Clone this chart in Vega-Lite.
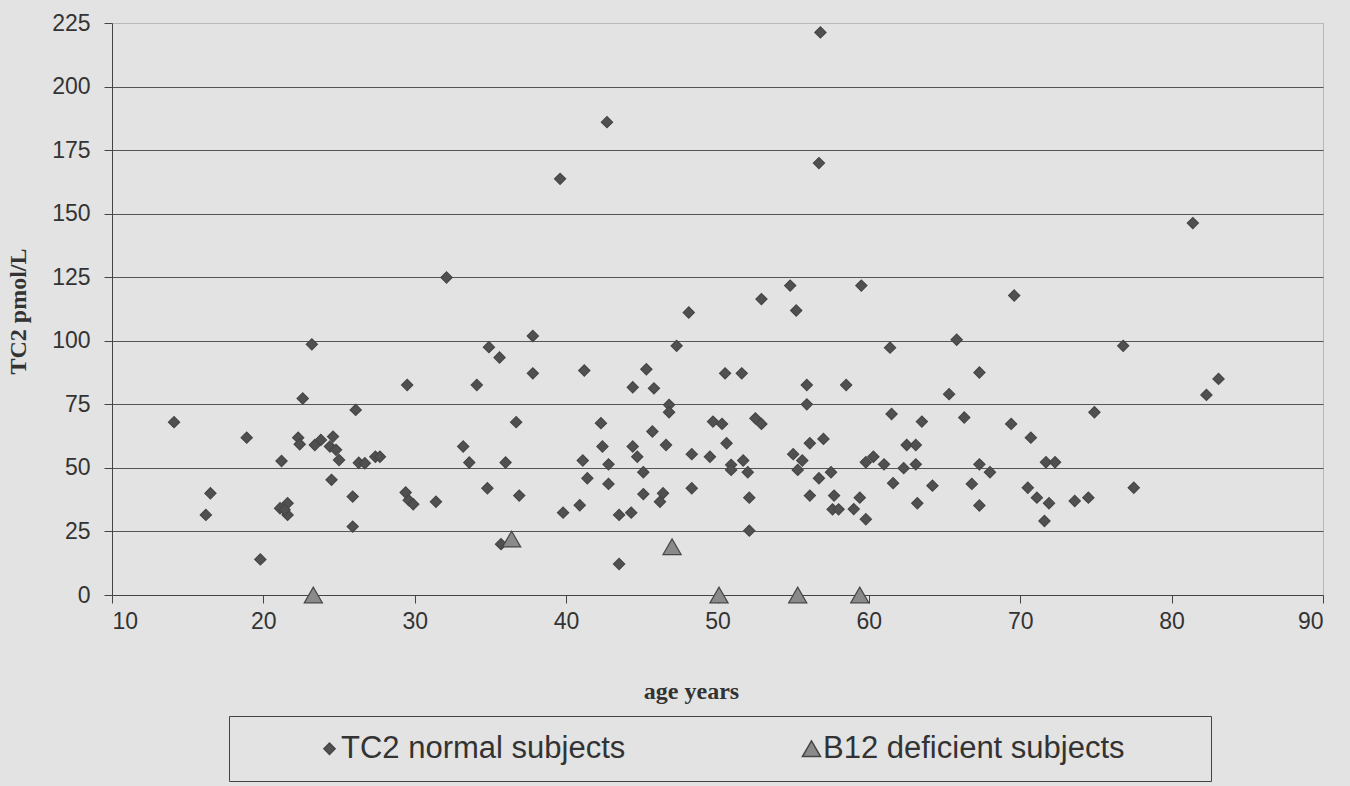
{
  "$schema": "https://vega.github.io/schema/vega-lite/v6.json",
  "width": 1211,
  "height": 572,
  "autosize": {"type": "none"},
  "padding": {"left": 112, "top": 23, "right": 27, "bottom": 191},
  "background": "#e3e3e3",
  "config": {
    "view": {"stroke": "#b8b8b8", "strokeWidth": 1},
    "axis": {"labelFont": "Liberation Sans", "titleFont": "Liberation Serif"}
  },
  "data": {
    "values": [
      {"age": 14.1, "tc2": 68.0, "series": "TC2 normal subjects"},
      {"age": 16.2, "tc2": 31.5, "series": "TC2 normal subjects"},
      {"age": 16.5, "tc2": 40.0, "series": "TC2 normal subjects"},
      {"age": 18.9, "tc2": 61.9, "series": "TC2 normal subjects"},
      {"age": 19.8, "tc2": 14.0, "series": "TC2 normal subjects"},
      {"age": 21.2, "tc2": 52.7, "series": "TC2 normal subjects"},
      {"age": 21.1, "tc2": 34.1, "series": "TC2 normal subjects"},
      {"age": 21.6, "tc2": 36.1, "series": "TC2 normal subjects"},
      {"age": 21.6, "tc2": 31.5, "series": "TC2 normal subjects"},
      {"age": 21.4, "tc2": 33.5, "series": "TC2 normal subjects"},
      {"age": 22.6, "tc2": 77.3, "series": "TC2 normal subjects"},
      {"age": 23.2, "tc2": 98.6, "series": "TC2 normal subjects"},
      {"age": 22.3, "tc2": 61.9, "series": "TC2 normal subjects"},
      {"age": 22.4, "tc2": 59.3, "series": "TC2 normal subjects"},
      {"age": 23.4, "tc2": 59.0, "series": "TC2 normal subjects"},
      {"age": 23.8, "tc2": 61.0, "series": "TC2 normal subjects"},
      {"age": 24.6, "tc2": 62.3, "series": "TC2 normal subjects"},
      {"age": 24.4, "tc2": 58.4, "series": "TC2 normal subjects"},
      {"age": 24.8, "tc2": 57.1, "series": "TC2 normal subjects"},
      {"age": 25.0, "tc2": 53.1, "series": "TC2 normal subjects"},
      {"age": 24.5, "tc2": 45.3, "series": "TC2 normal subjects"},
      {"age": 26.1, "tc2": 72.8, "series": "TC2 normal subjects"},
      {"age": 25.9, "tc2": 38.7, "series": "TC2 normal subjects"},
      {"age": 25.9, "tc2": 26.9, "series": "TC2 normal subjects"},
      {"age": 26.3, "tc2": 52.0, "series": "TC2 normal subjects"},
      {"age": 26.7, "tc2": 51.8, "series": "TC2 normal subjects"},
      {"age": 27.4, "tc2": 54.4, "series": "TC2 normal subjects"},
      {"age": 27.7, "tc2": 54.4, "series": "TC2 normal subjects"},
      {"age": 29.5, "tc2": 82.6, "series": "TC2 normal subjects"},
      {"age": 29.4, "tc2": 40.3, "series": "TC2 normal subjects"},
      {"age": 29.6, "tc2": 37.3, "series": "TC2 normal subjects"},
      {"age": 29.9, "tc2": 35.7, "series": "TC2 normal subjects"},
      {"age": 31.4, "tc2": 36.7, "series": "TC2 normal subjects"},
      {"age": 32.1, "tc2": 124.9, "series": "TC2 normal subjects"},
      {"age": 42.7, "tc2": 186.0, "series": "TC2 normal subjects"},
      {"age": 39.6, "tc2": 163.7, "series": "TC2 normal subjects"},
      {"age": 56.8, "tc2": 221.3, "series": "TC2 normal subjects"},
      {"age": 56.7, "tc2": 169.9, "series": "TC2 normal subjects"},
      {"age": 48.1, "tc2": 111.1, "series": "TC2 normal subjects"},
      {"age": 52.9, "tc2": 116.4, "series": "TC2 normal subjects"},
      {"age": 54.8, "tc2": 121.7, "series": "TC2 normal subjects"},
      {"age": 55.2, "tc2": 111.9, "series": "TC2 normal subjects"},
      {"age": 34.1, "tc2": 82.6, "series": "TC2 normal subjects"},
      {"age": 34.9, "tc2": 97.5, "series": "TC2 normal subjects"},
      {"age": 35.6, "tc2": 93.4, "series": "TC2 normal subjects"},
      {"age": 37.8, "tc2": 101.9, "series": "TC2 normal subjects"},
      {"age": 37.8, "tc2": 87.2, "series": "TC2 normal subjects"},
      {"age": 41.2, "tc2": 88.3, "series": "TC2 normal subjects"},
      {"age": 45.3, "tc2": 88.8, "series": "TC2 normal subjects"},
      {"age": 44.4, "tc2": 81.7, "series": "TC2 normal subjects"},
      {"age": 45.8, "tc2": 81.3, "series": "TC2 normal subjects"},
      {"age": 47.3, "tc2": 98.0, "series": "TC2 normal subjects"},
      {"age": 50.5, "tc2": 87.2, "series": "TC2 normal subjects"},
      {"age": 51.6, "tc2": 87.2, "series": "TC2 normal subjects"},
      {"age": 55.9, "tc2": 82.6, "series": "TC2 normal subjects"},
      {"age": 55.9, "tc2": 75.0, "series": "TC2 normal subjects"},
      {"age": 58.5, "tc2": 82.6, "series": "TC2 normal subjects"},
      {"age": 36.7, "tc2": 68.0, "series": "TC2 normal subjects"},
      {"age": 33.2, "tc2": 58.4, "series": "TC2 normal subjects"},
      {"age": 33.6, "tc2": 52.1, "series": "TC2 normal subjects"},
      {"age": 36.0, "tc2": 52.1, "series": "TC2 normal subjects"},
      {"age": 34.8, "tc2": 42.0, "series": "TC2 normal subjects"},
      {"age": 36.9, "tc2": 39.1, "series": "TC2 normal subjects"},
      {"age": 35.7, "tc2": 20.0, "series": "TC2 normal subjects"},
      {"age": 42.3, "tc2": 67.6, "series": "TC2 normal subjects"},
      {"age": 42.4, "tc2": 58.4, "series": "TC2 normal subjects"},
      {"age": 41.1, "tc2": 52.9, "series": "TC2 normal subjects"},
      {"age": 41.4, "tc2": 45.9, "series": "TC2 normal subjects"},
      {"age": 42.8, "tc2": 51.4, "series": "TC2 normal subjects"},
      {"age": 42.8, "tc2": 43.7, "series": "TC2 normal subjects"},
      {"age": 39.8, "tc2": 32.4, "series": "TC2 normal subjects"},
      {"age": 40.9, "tc2": 35.3, "series": "TC2 normal subjects"},
      {"age": 43.5, "tc2": 31.5, "series": "TC2 normal subjects"},
      {"age": 44.3, "tc2": 32.4, "series": "TC2 normal subjects"},
      {"age": 43.5, "tc2": 12.2, "series": "TC2 normal subjects"},
      {"age": 45.7, "tc2": 64.3, "series": "TC2 normal subjects"},
      {"age": 44.4, "tc2": 58.4, "series": "TC2 normal subjects"},
      {"age": 44.7, "tc2": 54.4, "series": "TC2 normal subjects"},
      {"age": 45.1, "tc2": 48.3, "series": "TC2 normal subjects"},
      {"age": 45.1, "tc2": 39.7, "series": "TC2 normal subjects"},
      {"age": 46.6, "tc2": 59.0, "series": "TC2 normal subjects"},
      {"age": 46.4, "tc2": 40.0, "series": "TC2 normal subjects"},
      {"age": 46.2, "tc2": 36.7, "series": "TC2 normal subjects"},
      {"age": 46.8, "tc2": 74.8, "series": "TC2 normal subjects"},
      {"age": 46.8, "tc2": 71.9, "series": "TC2 normal subjects"},
      {"age": 48.3, "tc2": 55.4, "series": "TC2 normal subjects"},
      {"age": 48.3, "tc2": 42.0, "series": "TC2 normal subjects"},
      {"age": 49.5, "tc2": 54.4, "series": "TC2 normal subjects"},
      {"age": 49.7, "tc2": 68.2, "series": "TC2 normal subjects"},
      {"age": 50.3, "tc2": 67.3, "series": "TC2 normal subjects"},
      {"age": 50.6, "tc2": 59.7, "series": "TC2 normal subjects"},
      {"age": 50.9, "tc2": 51.2, "series": "TC2 normal subjects"},
      {"age": 50.9, "tc2": 49.2, "series": "TC2 normal subjects"},
      {"age": 51.7, "tc2": 52.9, "series": "TC2 normal subjects"},
      {"age": 52.0, "tc2": 48.3, "series": "TC2 normal subjects"},
      {"age": 52.1, "tc2": 38.3, "series": "TC2 normal subjects"},
      {"age": 52.1, "tc2": 25.3, "series": "TC2 normal subjects"},
      {"age": 52.5, "tc2": 69.5, "series": "TC2 normal subjects"},
      {"age": 52.9, "tc2": 67.3, "series": "TC2 normal subjects"},
      {"age": 55.0, "tc2": 55.4, "series": "TC2 normal subjects"},
      {"age": 55.6, "tc2": 52.9, "series": "TC2 normal subjects"},
      {"age": 55.3, "tc2": 49.2, "series": "TC2 normal subjects"},
      {"age": 56.1, "tc2": 59.7, "series": "TC2 normal subjects"},
      {"age": 57.0, "tc2": 61.4, "series": "TC2 normal subjects"},
      {"age": 56.1, "tc2": 39.1, "series": "TC2 normal subjects"},
      {"age": 56.7, "tc2": 45.9, "series": "TC2 normal subjects"},
      {"age": 57.5, "tc2": 48.3, "series": "TC2 normal subjects"},
      {"age": 57.7, "tc2": 39.1, "series": "TC2 normal subjects"},
      {"age": 57.6, "tc2": 33.7, "series": "TC2 normal subjects"},
      {"age": 58.0, "tc2": 33.7, "series": "TC2 normal subjects"},
      {"age": 61.4, "tc2": 97.3, "series": "TC2 normal subjects"},
      {"age": 65.8, "tc2": 100.4, "series": "TC2 normal subjects"},
      {"age": 76.8, "tc2": 98.0, "series": "TC2 normal subjects"},
      {"age": 67.3, "tc2": 87.5, "series": "TC2 normal subjects"},
      {"age": 65.3, "tc2": 79.0, "series": "TC2 normal subjects"},
      {"age": 83.1, "tc2": 85.0, "series": "TC2 normal subjects"},
      {"age": 82.3, "tc2": 78.7, "series": "TC2 normal subjects"},
      {"age": 74.9, "tc2": 71.9, "series": "TC2 normal subjects"},
      {"age": 61.5, "tc2": 71.2, "series": "TC2 normal subjects"},
      {"age": 63.5, "tc2": 68.2, "series": "TC2 normal subjects"},
      {"age": 66.3, "tc2": 69.8, "series": "TC2 normal subjects"},
      {"age": 69.4, "tc2": 67.3, "series": "TC2 normal subjects"},
      {"age": 70.7, "tc2": 61.9, "series": "TC2 normal subjects"},
      {"age": 62.5, "tc2": 59.0, "series": "TC2 normal subjects"},
      {"age": 63.1, "tc2": 59.0, "series": "TC2 normal subjects"},
      {"age": 59.8, "tc2": 52.2, "series": "TC2 normal subjects"},
      {"age": 60.3, "tc2": 54.4, "series": "TC2 normal subjects"},
      {"age": 61.0, "tc2": 51.4, "series": "TC2 normal subjects"},
      {"age": 62.3, "tc2": 49.9, "series": "TC2 normal subjects"},
      {"age": 63.1, "tc2": 51.4, "series": "TC2 normal subjects"},
      {"age": 67.3, "tc2": 51.4, "series": "TC2 normal subjects"},
      {"age": 68.0, "tc2": 48.3, "series": "TC2 normal subjects"},
      {"age": 71.7, "tc2": 52.2, "series": "TC2 normal subjects"},
      {"age": 72.3, "tc2": 52.2, "series": "TC2 normal subjects"},
      {"age": 61.6, "tc2": 44.0, "series": "TC2 normal subjects"},
      {"age": 64.2, "tc2": 43.0, "series": "TC2 normal subjects"},
      {"age": 66.8, "tc2": 43.7, "series": "TC2 normal subjects"},
      {"age": 70.5, "tc2": 42.2, "series": "TC2 normal subjects"},
      {"age": 77.5, "tc2": 42.2, "series": "TC2 normal subjects"},
      {"age": 63.2, "tc2": 36.1, "series": "TC2 normal subjects"},
      {"age": 67.3, "tc2": 35.2, "series": "TC2 normal subjects"},
      {"age": 71.1, "tc2": 38.3, "series": "TC2 normal subjects"},
      {"age": 71.9, "tc2": 36.1, "series": "TC2 normal subjects"},
      {"age": 73.6, "tc2": 37.0, "series": "TC2 normal subjects"},
      {"age": 74.5, "tc2": 38.3, "series": "TC2 normal subjects"},
      {"age": 71.6, "tc2": 29.1, "series": "TC2 normal subjects"},
      {"age": 59.4, "tc2": 38.3, "series": "TC2 normal subjects"},
      {"age": 59.0, "tc2": 33.8, "series": "TC2 normal subjects"},
      {"age": 59.8, "tc2": 29.8, "series": "TC2 normal subjects"},
      {"age": 81.4, "tc2": 146.3, "series": "TC2 normal subjects"},
      {"age": 59.5, "tc2": 121.7, "series": "TC2 normal subjects"},
      {"age": 69.6, "tc2": 117.8, "series": "TC2 normal subjects"},
      {"age": 23.3, "tc2": 0, "series": "B12 deficient subjects"},
      {"age": 36.4, "tc2": 22.0, "series": "B12 deficient subjects"},
      {"age": 47.0, "tc2": 19.0, "series": "B12 deficient subjects"},
      {"age": 50.1, "tc2": 0, "series": "B12 deficient subjects"},
      {"age": 55.3, "tc2": 0, "series": "B12 deficient subjects"},
      {"age": 59.4, "tc2": 0, "series": "B12 deficient subjects"}
    ]
  },
  "mark": {"type": "point", "filled": true, "opacity": 1, "stroke": "#464646", "strokeWidth": 1.2},
  "encoding": {
    "x": {
      "field": "age",
      "type": "quantitative",
      "scale": {"domain": [10, 90], "nice": false, "zero": false},
      "axis": {
        "values": [10, 20, 30, 40, 50, 60, 70, 80, 90],
        "grid": false,
        "domainColor": "#444444",
        "tickColor": "#444444",
        "tickSize": 8,
        "labelFontSize": 23,
        "labelColor": "#333333",
        "labelPadding": 7,
        "title": "age years",
        "titleFontSize": 24,
        "titleFontWeight": "bold",
        "titleColor": "#333333",
        "titleX": 579,
        "titleY": 96,
        "titleAlign": "center",
        "titleBaseline": "middle"
      }
    },
    "y": {
      "field": "tc2",
      "type": "quantitative",
      "scale": {"domain": [0, 225], "nice": false},
      "axis": {
        "values": [0, 25, 50, 75, 100, 125, 150, 175, 200, 225],
        "grid": true,
        "gridColor": {"condition": {"test": "datum.value === 225", "value": "#b8b8b8"}, "value": "#555555"},
        "gridWidth": 1,
        "domainColor": "#444444",
        "tickColor": "#444444",
        "tickSize": 8,
        "labelFontSize": 23,
        "labelColor": "#333333",
        "labelPadding": 14,
        "title": "TC2 pmol/L",
        "titleFontSize": 24,
        "titleFontWeight": "bold",
        "titleColor": "#333333",
        "titleX": -94,
        "titleY": 288,
        "titleAlign": "center",
        "titleBaseline": "middle"
      }
    },
    "color": {
      "field": "series",
      "type": "nominal",
      "scale": {"domain": ["TC2 normal subjects", "B12 deficient subjects"], "range": ["#505050", "#8a8a8a"]},
      "legend": {
        "title": null,
        "orient": "none",
        "legendX": 117,
        "legendY": 693,
        "direction": "horizontal",
        "strokeColor": "#444444",
        "padding": 17,
        "labelFont": "Liberation Sans",
        "labelFontSize": 31,
        "labelColor": "#333333",
        "labelOffset": -4,
        "symbolOffset": 68,
        "columnPadding": 102,
        "labelLimit": 700,
        "labelExpr": "datum.label === 'B12 deficient subjects' ? datum.label + '\u2800\u2800\u2800' : datum.label",
        "symbolFillColor": "#444444",
        "encode": {
          "symbols": {"update": {"size": {"signal": "datum.value === 'TC2 normal subjects' ? 60 : 200"}, "fill": {"value": "#454545"}}}
        }
      }
    },
    "shape": {
      "field": "series",
      "type": "nominal",
      "scale": {"domain": ["TC2 normal subjects", "B12 deficient subjects"], "range": ["diamond", "triangle-up"]}
    },
    "size": {
      "field": "series",
      "type": "nominal",
      "scale": {"domain": ["TC2 normal subjects", "B12 deficient subjects"], "range": [125, 330]}
    }
  }
}
